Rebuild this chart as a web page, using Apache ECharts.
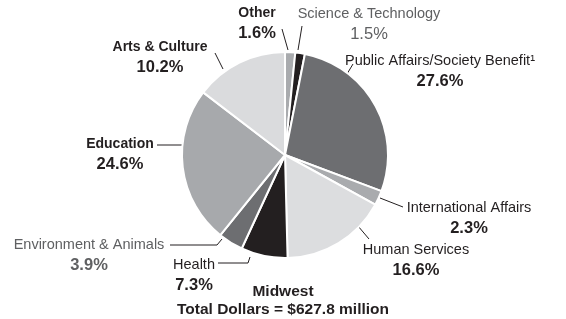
<!DOCTYPE html>
<html>
<head>
<meta charset="utf-8">
<script src="https://cdn.jsdelivr.net/npm/echarts@6/dist/echarts.min.js"></script>
<style>
  html, body { margin: 0; padding: 0; background: #fff; }
  #charts { width: 566px; height: 319px; }
</style>
</head>
<body>
<div id="charts"></div>
<script>
var myChart = echarts.init(document.getElementById('charts'));

// slices clockwise from 12 o'clock
var categories = ['Other', 'Science & Technology', 'Public Affairs/Society Benefit\u00b9',
	'International Affairs', 'Human Services', 'Health', 'Environment & Animals',
	'Education', 'Arts & Culture'];
// printed percentages
var pctLabels = ['1.6%', '1.5%', '27.6%', '2.3%', '16.6%', '7.3%', '3.9%', '24.6%', '10.2%'];
// slice sizes as drawn (arts & culture slice is drawn larger than its label)
var sliceValues = [1.6, 1.5, 27.6, 2.3, 16.6, 7.3, 3.9, 24.6, 14.6];

var colors = ['#a9abae', '#231f20', '#6d6e71', '#a9abae', '#dcdddf', '#231f20', '#6d6e71', '#a7a9ac', '#dadbdd'];
var nameStyle = ['b', 'g', 'n', 'n', 'n', 'n', 'g', 'b', 'b'];
var pctStyle = ['p', 'gr', 'p', 'p', 'p', 'p', 'gp', 'p', 'p'];

// label block centres and leader lines
var labelPos = [[257, 23], [369, 24], [440, 71], [469, 218], [416, 260], [194, 275], [89, 255], [120, 154], [160, 57]];
var leaders = [
	[[288, 50], [282, 29]],
	[[298, 50], [302, 26]],
	[[347, 74], [353, 64]],
	[[380, 198], [403, 207]],
	[[358, 226], [369, 239]],
	[[250, 257], [248, 263], [218, 263]],
	[[222, 239], [217, 245], [170, 245]],
	[[182, 145], [157, 145]],
	[[223, 69], [215, 53]]
];

var font = '"Liberation Sans", Arial, sans-serif';

var data = categories.map(function(name, i){
	return {
		name: name,
		value: sliceValues[i],
		itemStyle: { color: colors[i] },
		label: {
			formatter: '{' + nameStyle[i] + '|' + name + '}\n{' + pctStyle[i] + '|' + pctLabels[i] + '}'
		}
	};
});

var option = {
	animation: false,
	title: {
		left: 'center',
		top: 278,
		text: '{t|Midwest}\n{t|Total Dollars = $627.8 million}',
		textStyle: {
			rich: {
				t: { fontFamily: font, fontSize: 15.5, fontWeight: 'bold', color: '#231f20', lineHeight: 18 }
			}
		}
	},
	series: [{
		type: 'pie',
		center: [285, 155],
		radius: 103,
		startAngle: 90,
		clockwise: true,
		silent: true,
		itemStyle: { borderColor: '#fff', borderWidth: 2 },
		label: {
			show: true,
			position: 'outside',
			overflow: 'none',
			rich: {
				n: { fontFamily: font, fontSize: 14.5, color: '#231f20', lineHeight: 20 },
				b: { fontFamily: font, fontSize: 14, fontWeight: 'bold', color: '#231f20', lineHeight: 20 },
				g: { fontFamily: font, fontSize: 14.5, color: '#5f6062', lineHeight: 20 },
				p: { fontFamily: font, fontSize: 16.5, fontWeight: 'bold', color: '#231f20', lineHeight: 20 },
				gp: { fontFamily: font, fontSize: 16.5, fontWeight: 'bold', color: '#5f6062', lineHeight: 20 },
				gr: { fontFamily: font, fontSize: 16.5, color: '#5f6062', lineHeight: 20 }
			}
		},
		labelLine: {
			show: true,
			lineStyle: { color: '#231f20', width: 1 }
		},
		labelLayout: function(params){
			var i = params.dataIndex;
			return {
				x: labelPos[i][0],
				y: labelPos[i][1],
				align: 'center',
				verticalAlign: 'middle',
				labelLinePoints: leaders[i]
			};
		},
		data: data
	}]
};

myChart.setOption(option);
</script>
</body>
</html>
